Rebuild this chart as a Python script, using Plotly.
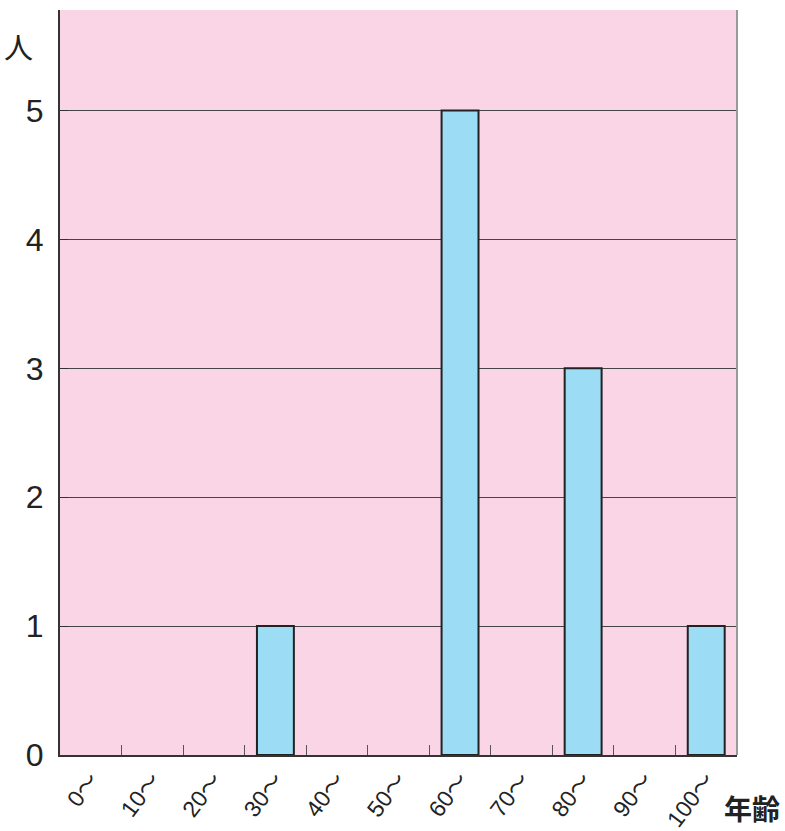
import plotly.graph_objects as go

categories = ["0〜", "10〜", "20〜", "30〜", "40〜", "50〜", "60〜", "70〜", "80〜", "90〜", "100〜"]
counts = [0, 0, 0, 1, 0, 0, 5, 0, 3, 0, 1]
y_ticks = [0, 1, 2, 3, 4, 5]
y_label = "人"
x_label = "年齢"

font_main = "Liberation Sans Narrow, Liberation Sans, Arial, Noto Sans CJK JP, sans-serif"

# zero-height bars are not drawn (no outline)
bar_vals = [v if v > 0 else None for v in counts]

fig = go.Figure()
fig.add_trace(go.Bar(
    x=categories, y=bar_vals, width=0.6,
    marker=dict(color="#9DDCF5", line=dict(color="#222222", width=2)),
    hoverinfo="skip",
))

fig.update_layout(
    width=785, height=831,
    margin=dict(l=60, r=48, t=10, b=76),
    paper_bgcolor="white",
    plot_bgcolor="#F9D5E5",
    showlegend=False,
    font=dict(family=font_main, color="#222222"),
    xaxis=dict(
        type="category",
        categoryorder="array", categoryarray=categories,
        tickangle=-53,
        tickson="boundaries",
        ticks="inside", ticklen=10, tickcolor="#555555", tickwidth=1,
        tickfont=dict(size=23, family=font_main),
        showline=True, linecolor="#333333", linewidth=2,
        showgrid=False,
        automargin=False,
    ),
    yaxis=dict(
        range=[0, 5.78],
        tickvals=y_ticks,
        ticks="inside", ticklen=8, tickcolor="#333333",
        tickfont=dict(size=32, family=font_main),
        showline=True, linecolor="#333333", linewidth=2,
        showgrid=True, gridcolor="#444444", gridwidth=1,
        zeroline=False,
        ticklabelstandoff=8,
        automargin=False,
    ),
    shapes=[dict(type="line", xref="paper", yref="paper", x0=1, x1=1, y0=0, y1=1,
                 line=dict(color="#999999", width=2))],
    annotations=[
        dict(text=y_label, xref="paper", yref="paper", x=-0.061, y=0.952,
             showarrow=False, xanchor="center", yanchor="middle",
             font=dict(size=29, family="Noto Sans CJK JP")),
        dict(text=x_label, xref="paper", yref="paper", x=1.022, y=-0.071,
             showarrow=False, xanchor="center", yanchor="middle",
             font=dict(size=28, family="Noto Sans CJK JP", weight="bold")),
    ],
)

fig.write_html("out.html", config={"displayModeBar": False},
               post_script="document.body.style.margin='0';")
